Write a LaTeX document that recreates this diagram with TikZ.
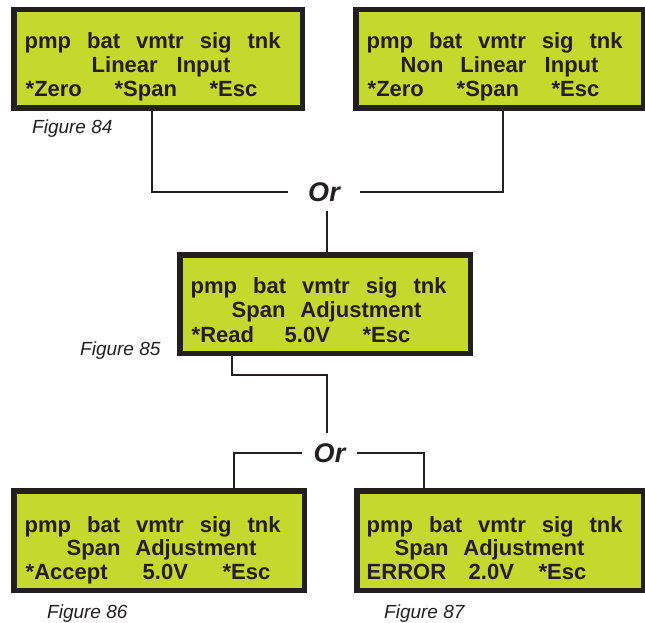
\documentclass[tikz,border=0pt]{standalone}
\usepackage{fontspec}
\setmainfont{Liberation Sans}
\definecolor{lcdfill}{HTML}{C4D92E}
\definecolor{ink}{HTML}{231F20}
\newcommand\toprow{pmp\hspace{16pt}bat\hspace{16pt}vmtr\hspace{16pt}sig\hspace{16pt}tnk}
\begin{document}
\begin{tikzpicture}[x=1pt,y=-1pt,
  lcd/.style={draw=ink,fill=lcdfill,line width=5.5pt,inner sep=0pt},
  lcdtext/.style={anchor=base west,inner sep=0pt,text=ink,font=\fontsize{22}{24}\selectfont\bfseries},
  figlabel/.style={anchor=base west,inner sep=0pt,text=ink,font=\fontsize{19}{22}\selectfont\itshape},
  ortext/.style={inner ysep=0pt,text=ink,font=\fontsize{27}{30}\selectfont\bfseries\itshape},
  conn/.style={draw=ink,line width=2pt}]
\useasboundingbox (0,0) rectangle (645,623);

% boxes
\node[lcd,minimum width=288.5pt,minimum height=98.5pt] (b1) at (158,59) {};
\node[lcd,minimum width=287.5pt,minimum height=98.5pt] (b2) at (499.5,59) {};
\node[lcd,minimum width=290.5pt,minimum height=98.5pt] (b3) at (325,304) {};
\node[lcd,minimum width=290.5pt,minimum height=99.5pt] (b4) at (159,540.5) {};
\node[lcd,minimum width=286.5pt,minimum height=99.5pt] (b5) at (500,540.5) {};

% Or nodes
\node[ortext,inner xsep=20.25pt,minimum height=38pt] (or1) at (324,192) {Or};
\node[ortext,inner xsep=11.75pt,minimum height=40pt] (or2) at (329.5,453) {Or};

% attachment coordinates
\coordinate (b1s) at ([xshift=-6pt]b1.south);
\coordinate (b2s) at ([xshift=3.5pt]b2.south);
\coordinate (b3n) at ([xshift=2pt]b3.north);
\coordinate (b3s) at ([xshift=-93pt]b3.south);
\coordinate (j2) at (327,375);
\coordinate (b4n) at ([xshift=75pt]b4.north);
\coordinate (b5n) at ([xshift=-76pt]b5.north);

% connectors
\begin{scope}[on background layer/.style={}]
\draw[conn] (b1s) |- (or1.west);
\draw[conn] (b2s) |- (or1.east);
\draw[conn] (or1.south -| b3n) -- (b3n);
\draw[conn] (b3s) |- (j2) -- (or2.north -| j2);
\draw[conn] (or2.west) -| (b4n);
\draw[conn] (or2.east) -| (b5n);
\end{scope}

% redraw boxes on top of connector ends
\node[lcd,minimum width=288.5pt,minimum height=98.5pt] (b1top) at (158,59) {};
\node[lcd,minimum width=287.5pt,minimum height=98.5pt] (b2top) at (499.5,59) {};
\node[lcd,minimum width=290.5pt,minimum height=98.5pt] (b3top) at (325,304) {};
\node[lcd,minimum width=290.5pt,minimum height=99.5pt] (b4top) at (159,540.5) {};
\node[lcd,minimum width=286.5pt,minimum height=99.5pt] (b5top) at (500,540.5) {};

% box 1
\node[lcdtext] (b1r1) at (24.5,48.3) {\toprow};
\node[lcdtext] (b1r2) at (91.5,72.7) {\makebox[85pt][l]{Linear}Input};
\node[lcdtext] (b1r3) at (25.5,96.7) {\makebox[89pt][l]{*Zero}\makebox[95pt][l]{*Span}*Esc};
% box 2
\node[lcdtext] (b2r1) at (366.5,48.3) {\toprow};
\node[lcdtext] (b2r2) at (400.5,72.7) {\makebox[59.7pt][l]{Non}\makebox[84.3pt][l]{Linear}Input};
\node[lcdtext] (b2r3) at (367.5,96.7) {\makebox[89pt][l]{*Zero}\makebox[95pt][l]{*Span}*Esc};
% box 3
\node[lcdtext] (b3r1) at (190.5,293) {\toprow};
\node[lcdtext] (b3r2) at (231.5,317) {\makebox[68.7pt][l]{Span}Adjustment};
\node[lcdtext] (b3r3) at (191.5,342) {\makebox[93pt][l]{*Read}\makebox[78pt][l]{5.0V}*Esc};
% box 4
\node[lcdtext] (b4r1) at (24.5,532) {\toprow};
\node[lcdtext] (b4r2) at (66.5,555.5) {\makebox[68.7pt][l]{Span}Adjustment};
\node[lcdtext] (b4r3) at (25.5,579.3) {\makebox[117pt][l]{*Accept}\makebox[80pt][l]{5.0V}*Esc};
% box 5
\node[lcdtext] (b5r1) at (366.5,532) {\toprow};
\node[lcdtext] (b5r2) at (394.5,555.5) {\makebox[68.7pt][l]{Span}Adjustment};
\node[lcdtext] (b5r3) at (366.5,579.3) {\makebox[102pt][l]{ERROR}\makebox[70pt][l]{2.0V}*Esc};

% figure labels
\node[figlabel] (f84) at (32,133.3) {Figure 84};
\node[figlabel] (f85) at (80,355) {Figure 85};
\node[figlabel] (f86) at (47,618.5) {Figure 86};
\node[figlabel] (f87) at (384,618.5) {Figure 87};
\end{tikzpicture}
\end{document}
